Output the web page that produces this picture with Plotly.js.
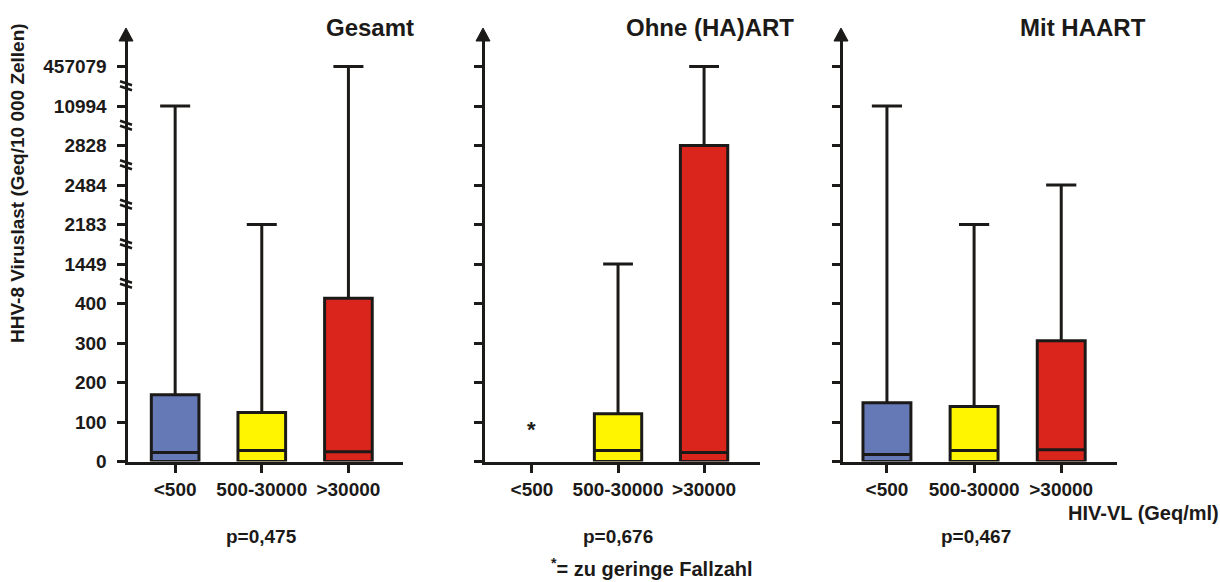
<!DOCTYPE html>
<html>
<head>
<meta charset="utf-8">
<script src="https://cdn.plot.ly/plotly-3.0.1.min.js"></script>
<style>html,body{margin:0;padding:0;background:#fff;}#chart{width:1220px;height:582px;}</style>
</head>
<body>
<div id="chart"></div>
<script>
// ---- data ----
const categories = ['<500', '500-30000', '>30000'];
const yTickValues = [0, 100, 200, 300, 400, 1449, 2183, 2484, 2828, 10994, 457079];
const yTickLabels = ['0', '100', '200', '300', '400', '1449', '2183', '2484', '2828', '10994', '457079'];
const panelTitles = ['Gesamt', 'Ohne (HA)ART', 'Mit HAART'];
const pValues = ['p=0,475', 'p=0,676', 'p=0,467'];

const gesamtQ1 = [0, 0, 0];
const gesamtMedian = [23, 28, 25];
const gesamtQ3 = [169, 124, 537];
const gesamtMax = [10994, 2183, 457079];

const ohneQ1 = [null, 0, 0];
const ohneMedian = [null, 28, 23];
const ohneQ3 = [null, 121, 2828];
const ohneMax = [null, 1449, 457079];
const ohneFewCases = [100, null, null]; // '*' marker: too few cases

const mitQ1 = [0, 0, 0];
const mitMedian = [18, 28, 30];
const mitQ3 = [149, 139, 306];
const mitMax = [10994, 2183, 2484];

const boxColors = ['#6479b5', '#fff500', '#da251d'];

// ---- broken axis: piecewise-linear mapping of value -> display position ----
function pos(v) {
  if (v === null || v === undefined) return null;
  for (let i = 0; i < yTickValues.length - 1; i++) {
    const a = yTickValues[i], b = yTickValues[i + 1];
    if (v <= b) return i + (v - a) / (b - a);
  }
  return yTickValues.length - 1;
}
const tickPos = yTickValues.map(pos);

const W = 1220, H = 582;
const DARK = '#1c1a18';
const FONT = 'Liberation Sans, Arial, sans-serif';
const FS = 19;

const panels = [
  {q1: gesamtQ1, med: gesamtMedian, q3: gesamtQ3, max: gesamtMax, left: 127.5, right: 403, range: [-0.55, 2.63]},
  {q1: ohneQ1, med: ohneMedian, q3: ohneQ3, max: ohneMax, left: 484.5, right: 760, range: [-0.552, 2.65]},
  {q1: mitQ1, med: mitMedian, q3: mitQ3, max: mitMax, left: 842.5, right: 1117, range: [-0.51, 2.64]}
];

const yBottomPx = 461.5, yTopPx = 40, unitPx = 39.5;
const yDomain = [(H - yBottomPx) / H, (H - yTopPx) / H];
const yRange = [0, (yBottomPx - yTopPx) / unitPx];

const traces = [];
const layout = {
  width: W, height: H,
  margin: {l: 0, r: 0, t: 0, b: 0},
  paper_bgcolor: '#fff', plot_bgcolor: 'rgba(0,0,0,0)',
  showlegend: false,
  font: {family: FONT, color: DARK, size: FS, weight: 'bold'},
  shapes: [], annotations: []
};

panels.forEach((p, k) => {
  const xa = k === 0 ? 'x' : 'x' + (k + 1);
  const ya = k === 0 ? 'y' : 'y' + (k + 1);
  const xKey = k === 0 ? 'xaxis' : 'xaxis' + (k + 1);
  const yKey = k === 0 ? 'yaxis' : 'yaxis' + (k + 1);

  categories.forEach((c, i) => {
    if (p.q3[i] === null) return;
    traces.push({
      type: 'box', xaxis: xa, yaxis: ya,
      x: [c],
      q1: [pos(p.q1[i])], median: [pos(p.med[i])], q3: [pos(p.q3[i])],
      lowerfence: [pos(p.q1[i])], upperfence: [pos(p.max[i])],
      fillcolor: boxColors[i],
      line: {color: DARK, width: 3},
      width: 0.55, whiskerwidth: 0.63,
      boxpoints: false, hoverinfo: 'skip'
    });
  });

  layout[xKey] = {
    domain: [p.left / W, p.right / W], anchor: ya,
    type: 'category', categoryarray: categories, range: p.range,
    showline: true, linecolor: DARK, linewidth: 3,
    ticks: 'outside', ticklen: 8, tickwidth: 3, tickcolor: DARK,
    showgrid: false, zeroline: false, fixedrange: true,
    tickfont: {family: FONT, size: FS, color: DARK, weight: 'bold'},
    ticklabelstandoff: 1
  };
  layout[yKey] = {
    domain: yDomain, anchor: xa, range: yRange,
    tickmode: 'array', tickvals: tickPos, ticktext: yTickLabels,
    showticklabels: k === 0,
    showline: true, linecolor: DARK, linewidth: 3,
    ticks: 'outside', ticklen: 8, tickwidth: 3, tickcolor: DARK,
    showgrid: false, zeroline: false, fixedrange: true,
    tickfont: {family: FONT, size: FS, color: DARK, weight: 'bold'},
    ticklabelstandoff: 6
  };

  // arrow head on top of the y-axis
  layout.shapes.push({
    type: 'path', xref: 'paper', yref: 'paper',
    xsizemode: 'pixel', ysizemode: 'pixel',
    xanchor: (p.left - 1.5) / W, yanchor: yDomain[1],
    path: 'M-7,-1 L7,-1 L0,12 Z',
    fillcolor: DARK, line: {color: DARK, width: 1}
  });

  // panel title
  const titleX = [370, 710, 1083][k];
  layout.annotations.push({
    text: panelTitles[k], xref: 'paper', yref: 'paper',
    x: titleX / W, y: 1 - 27 / H, xanchor: 'center', yanchor: 'middle',
    showarrow: false, font: {family: FONT, size: 24, color: DARK, weight: 'bold'}
  });
  // p value
  const pX = [261, 618, 976][k];
  layout.annotations.push({
    text: pValues[k], xref: 'paper', yref: 'paper',
    x: pX / W, y: 1 - 536 / H, xanchor: 'center', yanchor: 'middle',
    showarrow: false, font: {family: FONT, size: FS, color: DARK, weight: 'bold'}
  });
});

// y-axis title (placed like the reference, above the axis centre)
layout.annotations.push({
  text: 'HHV-8 Viruslast (Geq/10 000 Zellen)', xref: 'paper', yref: 'paper',
  x: 17 / W, y: 1 - 183 / H, xanchor: 'center', yanchor: 'middle', textangle: -90,
  showarrow: false, font: {family: FONT, size: 19, color: DARK, weight: 'bold'}
});

// '*' marker for too few cases in panel 2 (anchored on the data axes)
ohneFewCases.forEach((v, i) => {
  if (v === null) return;
  layout.annotations.push({
    text: '*', xref: 'x2', yref: 'y2', x: categories[i], y: pos(v),
    xanchor: 'center', yanchor: 'middle', yshift: -7,
    showarrow: false, font: {family: FONT, size: 22, color: DARK, weight: 'bold'}
  });
});

// axis-break marks on panel 1 y-axis
for (let i = 4; i < yTickValues.length - 1; i++) {
  layout.shapes.push({
    type: 'path', xref: 'paper', yref: 'y',
    xsizemode: 'pixel', ysizemode: 'pixel',
    xanchor: (panels[0].left - 1.5) / W, yanchor: i + 0.5,
    path: 'M-6,5 L6,1 M-6,0 L6,-4',
    line: {color: DARK, width: 2.5}
  });
}

layout.annotations.push({
  text: 'HIV-VL (Geq/ml)', xref: 'paper', yref: 'paper',
  x: 1143 / W, y: 1 - 513 / H, xanchor: 'center', yanchor: 'middle',
  showarrow: false, font: {family: FONT, size: 20, color: DARK, weight: 'bold'}
});
layout.annotations.push({
  text: '<sup>*</sup>= zu geringe Fallzahl', xref: 'paper', yref: 'paper',
  x: 652 / W, y: 1 - 567 / H, xanchor: 'center', yanchor: 'middle',
  showarrow: false, font: {family: FONT, size: 20, color: DARK, weight: 'bold'}
});

Plotly.newPlot('chart', traces, layout, {displayModeBar: false, staticPlot: true});
</script>
</body>
</html>
